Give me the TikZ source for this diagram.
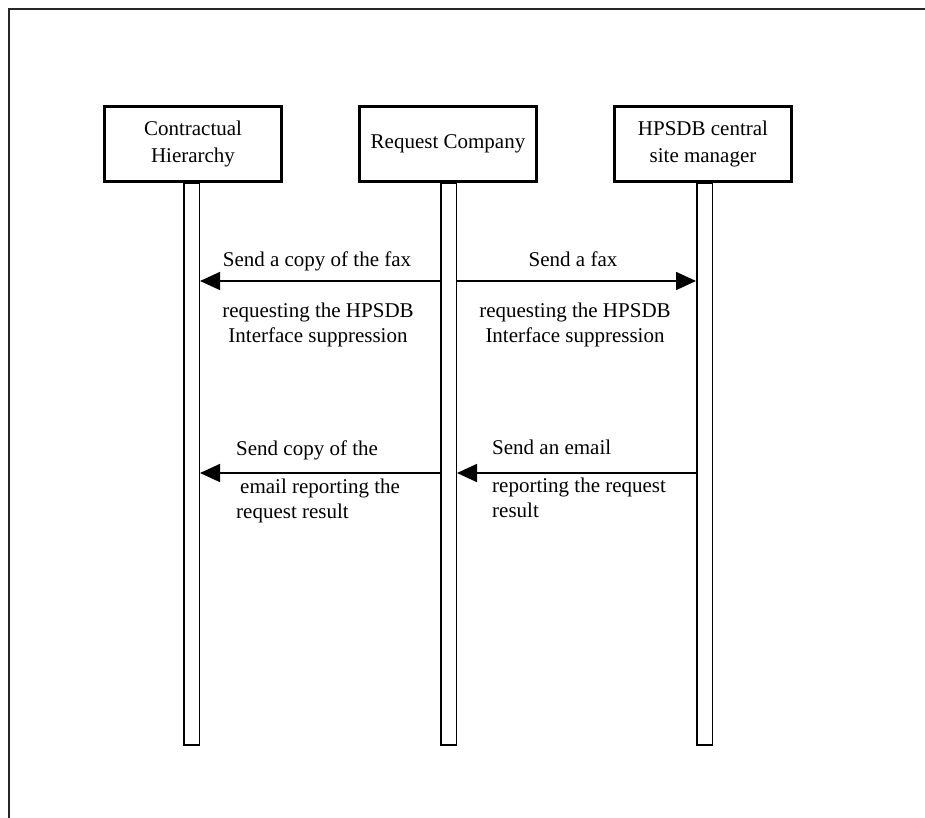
\documentclass[tikz,border=0pt]{standalone}
\usepackage{fontspec}
\setmainfont{Liberation Serif}
\usetikzlibrary{arrows.meta,positioning}

\begin{document}
\begin{tikzpicture}[x=1pt,y=-1pt,
  actor/.style={draw,line width=3pt,minimum width=177pt,minimum height=75pt,align=center,font=\fontsize{21}{27}\selectfont},
  life/.style={draw,line width=1.5pt,minimum width=15.5pt,minimum height=561pt,anchor=north,inner sep=0pt},
  msg/.style={-{Triangle[length=20pt,width=18pt]},line width=1.6pt},
  lbl/.style={font=\fontsize{21}{25}\selectfont,align=center,inner sep=0pt}]
\useasboundingbox (0,0) rectangle (925,818);
\draw[line width=2pt,black!85] (9,840) -- (9,9) -- (940,9);
% actors
\node[actor] (ch) at (193,144) {Contractual\\Hierarchy};
\node[actor] (rc) at (448,144) {Request Company};
\node[actor] (hm) at (703,144) {HPSDB central\\site manager};
% lifelines
\node[life] (chl) at (191.5,183) {};
\node[life] (rcl) at (448.5,183) {};
\node[life] (hml) at (704.5,183) {};
% messages
\coordinate (r1) at (0,281);
\coordinate (r2) at (0,473);
\draw[msg] (rcl.west |- r1) -- (chl.east |- r1);
\draw[msg] (rcl.east |- r1) -- (hml.west |- r1);
\draw[msg] (rcl.west |- r2) -- (chl.east |- r2);
\draw[msg] (hml.west |- r2) -- (rcl.east |- r2);
% labels (base = last line)
\node[lbl,anchor=base] (l1a) at (317,266) {Send a copy of the fax};
\node[lbl,anchor=base] (l1b) at (318,342) {requesting the HPSDB\\Interface suppression};
\node[lbl,anchor=base] (r1a) at (573,266) {Send a fax};
\node[lbl,anchor=base] (r1b) at (575,342) {requesting the HPSDB\\Interface suppression};
\node[lbl,align=left,anchor=base west] (l2a) at (236,455) {Send copy of the};
\node[lbl,align=left,anchor=base west] (l2b) at (236,518) {\hspace*{4pt}email reporting the\\request result};
\node[lbl,align=left,anchor=base west] (r2a) at (492,454) {Send an email};
\node[lbl,align=left,anchor=base west] (r2b) at (492,517) {reporting the request\\result};
\end{tikzpicture}
\end{document}
